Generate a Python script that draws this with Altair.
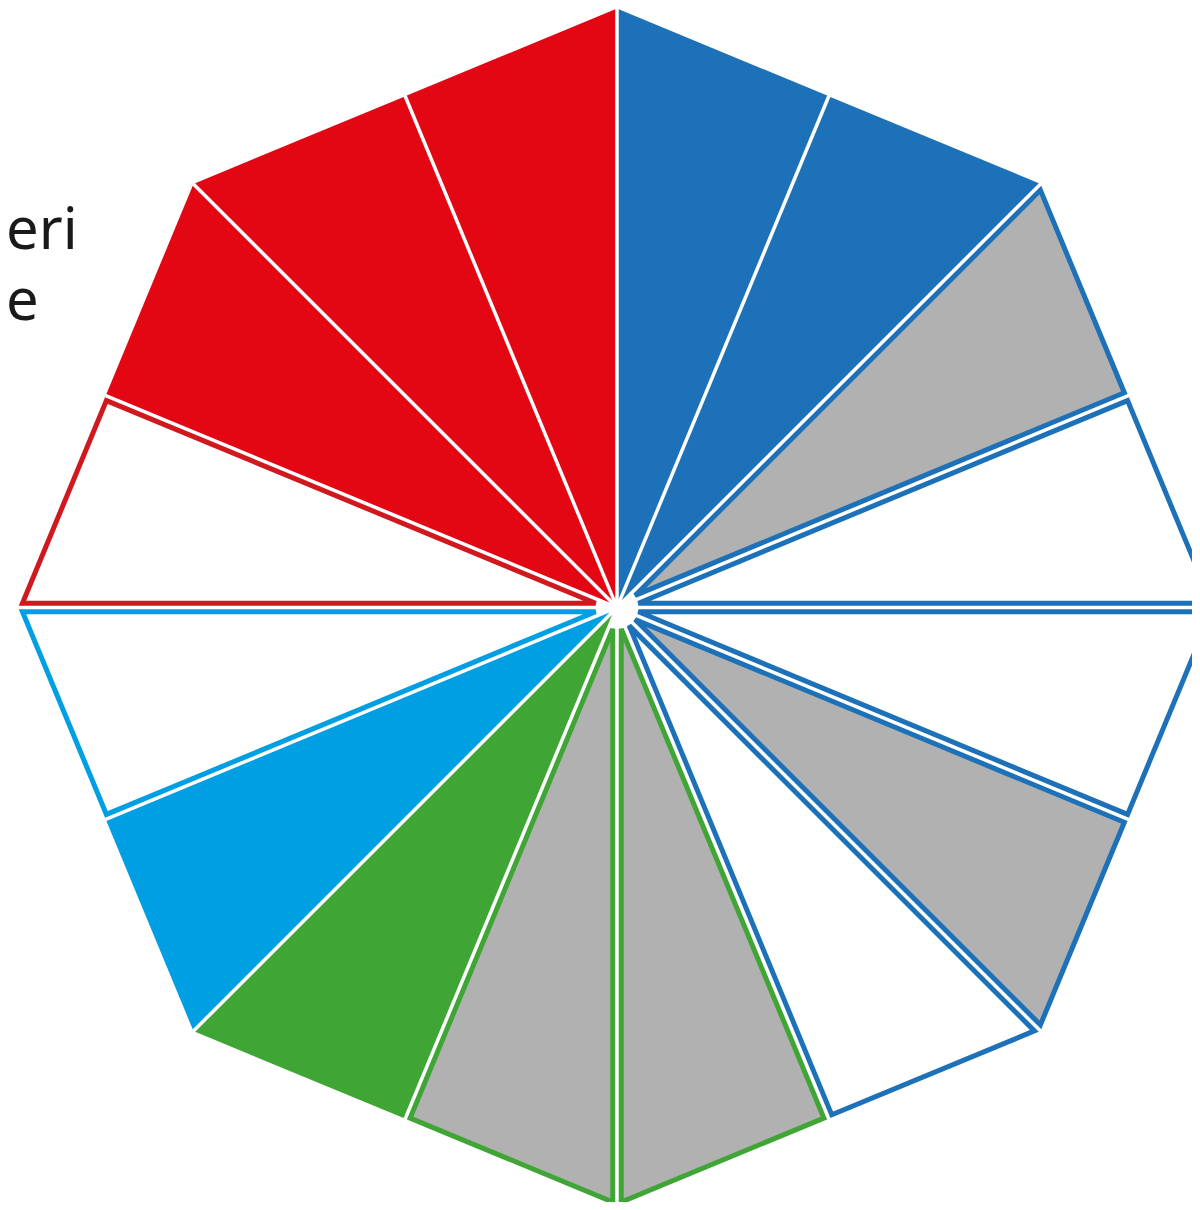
import math
import altair as alt

# ---- data -------------------------------------------------------------
# 16 equal seats, clockwise from the top
slice_party = ["blue", "blue", "blue", "blue", "blue", "blue", "blue",
               "green", "green", "green",
               "lightblue", "lightblue",
               "red", "red", "red", "red"]
slice_status = ["full", "full", "grey", "empty", "empty", "grey", "empty",
                "grey", "grey", "full",
                "full", "empty",
                "empty", "full", "full", "full"]
party_fill = {"blue": "#1d71b8", "green": "#3fa535",
              "lightblue": "#009fe3", "red": "#e30613"}
party_line = {"blue": "#1d71b8", "green": "#3fa535",
              "lightblue": "#009fe3", "red": "#d0191f"}
status_fill = {"grey": "#b1b1b1", "empty": "#ffffff"}
legend_lines = ["eri", "e"]

# ---- geometry (octagon wedges, inset for white gaps) -------------------
SCALE = 599.0          # px per unit radius
GAP = 1.75             # half white gap in px
SW = 5.0               # outline width in px
N = len(slice_party)
step = 360.0 / N
apo = math.cos(math.radians(22.5))


def boundary(a_deg):
    r = apo / math.cos(math.radians((a_deg % 45.0) - 22.5))
    a = math.radians(a_deg)
    return (r * math.cos(a), r * math.sin(a))


def inset(poly, dists):
    n = len(poly)
    lines = []
    for i in range(n):
        p, q = poly[i], poly[(i + 1) % n]
        dx, dy = q[0] - p[0], q[1] - p[1]
        L = math.hypot(dx, dy)
        nx, ny = -dy / L, dx / L
        d = dists[i]
        lines.append(((p[0] + nx * d, p[1] + ny * d), (dx, dy)))
    out = []
    for i in range(n):
        (p1, d1), (p2, d2) = lines[i - 1], lines[i]
        den = d1[0] * d2[1] - d1[1] * d2[0]
        t = ((p2[0] - p1[0]) * d2[1] - (p2[1] - p1[1]) * d2[0]) / den
        out.append([p1[0] + d1[0] * t, p1[1] + d1[1] * t])
    return out


features = []
for k in range(N):
    a0 = 90.0 - step * k
    a1 = 90.0 - step * (k + 1)
    poly = [(0.0, 0.0), boundary(a1), boundary(a0)]
    full = slice_status[k] == "full"
    if full:
        d = [GAP / SCALE, 0.0, GAP / SCALE]
    else:
        d = [(GAP + SW / 2) / SCALE, (SW / 2) / SCALE, (GAP + SW / 2) / SCALE]
    ring = inset(poly, d)
    ring.append(ring[0])
    party = slice_party[k]
    fill = party_fill[party] if full else status_fill[slice_status[k]]
    features.append({
        "type": "Feature",
        "geometry": {"type": "Polygon", "coordinates": [ring]},
        "properties": {"party": party, "status": slice_status[k],
                       "fill": fill, "line": party_line[party],
                       "full": full},
    })

data = alt.InlineData(values=features)
proj = dict(type="identity", reflectY=True, scale=SCALE, translate=[609, 599.5])

filled = alt.Chart(data).mark_geoshape(strokeWidth=0).encode(
    fill=alt.Fill("properties.fill:N", scale=None)
).transform_filter("datum.properties.full").project(**proj)

outlined = alt.Chart(data).mark_geoshape(strokeWidth=SW, strokeJoin="miter").encode(
    fill=alt.Fill("properties.fill:N", scale=None),
    stroke=alt.Stroke("properties.line:N", scale=None),
).transform_filter("!datum.properties.full").project(**proj)

label = alt.Chart(alt.InlineData(values=[{"k": 0}])).mark_text(
    text=legend_lines, align="left", baseline="alphabetic",
    font="Noto Sans", fontSize=58, lineHeight=71, color="#1a1a1a"
).encode(x=alt.value(-2), y=alt.value(241))

chart = alt.layer(filled, outlined, label).properties(
    width=1184, height=1194,
    autosize=alt.AutoSizeParams(type="none"),
    padding=0,
).configure_view(stroke=None)

chart.save("out.html", embed_options={"renderer": "svg", "actions": False})
